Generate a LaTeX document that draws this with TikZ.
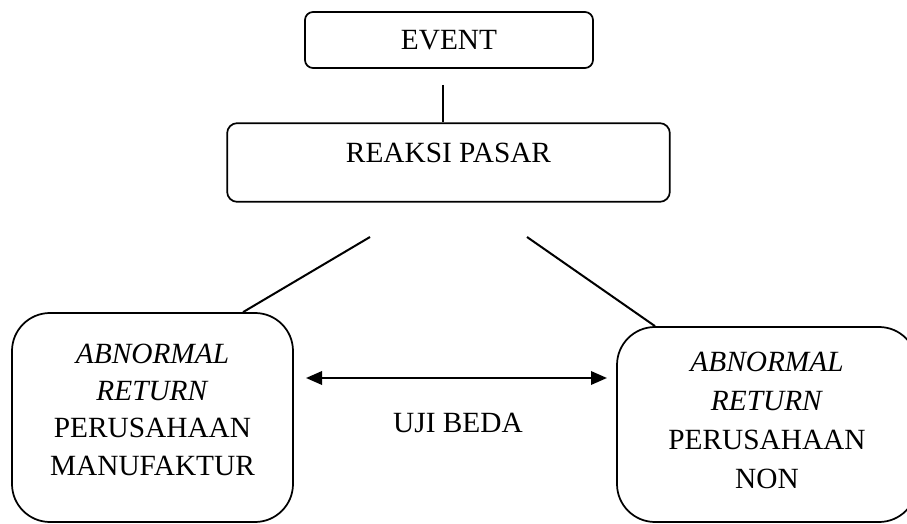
\documentclass[tikz,border=0pt]{standalone}
\usepackage{fontspec}
\setmainfont{Liberation Serif}
\usetikzlibrary{arrows.meta}
\begin{document}
\begin{tikzpicture}[x=0.75pt,y=-0.75pt,
  txt/.style={font=\fontsize{22}{28.1}\selectfont},
  rbox/.style={draw,line width=1.3pt,rectangle,align=center,inner sep=0pt,txt},
  conn/.style={line width=1.5pt},
  dbl/.style={line width=1.8pt,{Triangle[length=12pt,width=10pt]}-{Triangle[length=12pt,width=10pt]}}]
\fill[white] (0,0) rectangle (907,524);
\useasboundingbox (0,0) rectangle (907,524);
\clip (0,0) rectangle (907,524);
\node[rbox,rounded corners=6pt,minimum width=216pt,minimum height=42pt,text depth=0pt] (event) at (449,40) {EVENT};
\node[rbox,rounded corners=7.5pt,minimum width=332pt,minimum height=59pt,text depth=14pt] (reaksi) at (448.5,162.5) {REAKSI PASAR};
\node[rbox,rounded corners=28.5pt,minimum width=210.75pt,minimum height=156.75pt,text depth=12pt] (lbox) at (152.5,417.5) {\textit{ABNORMAL}\\\textit{RETURN}\\PERUSAHAAN\\MANUFAKTUR};
\node[rbox,font=\fontsize{22}{29.2}\selectfont,rounded corners=28.5pt,minimum width=225pt,minimum height=146.25pt,text depth=6pt] (rbox) at (767,424.5) {\textit{ABNORMAL}\\\textit{RETURN}\\PERUSAHAAN\\NON};
\node[txt,inner sep=0pt] (uji) at (458,423) {UJI BEDA};
\coordinate (v1) at (443,85);
\coordinate (la) at (370,237);
\coordinate (ra) at (527,237);
\coordinate (a1) at (306,378);
\coordinate (a2) at (607,378);
\draw[conn] (v1) -- (v1 |- reaksi.north);
\draw[conn] (la) -- ([xshift=67.9pt]lbox.north);
\draw[conn] (ra) -- ([xshift=-84pt]rbox.north);
\draw[dbl] (a1) -- (a2);
\end{tikzpicture}
\end{document}
